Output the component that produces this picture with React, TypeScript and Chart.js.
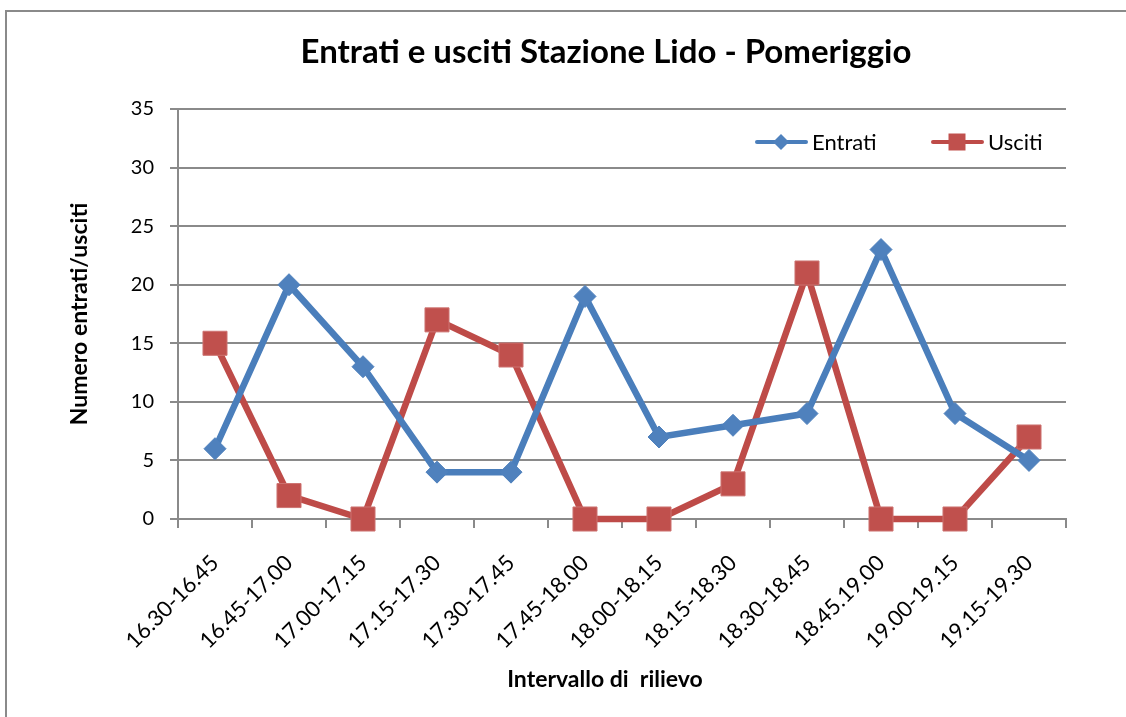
import React, { useEffect, useRef } from "react";
import { Chart, registerables } from "chart.js";

Chart.register(...registerables);

const categories = [
  "16.30-16.45",
  "16.45-17.00",
  "17.00-17.15",
  "17.15-17.30",
  "17.30-17.45",
  "17.45-18.00",
  "18.00-18.15",
  "18.15-18.30",
  "18.30-18.45",
  "18.45.19.00",
  "19.00-19.15",
  "19.15-19.30",
];
const entrati = [6, 20, 13, 4, 4, 19, 7, 8, 9, 23, 9, 5];
const usciti = [15, 2, 0, 17, 14, 0, 0, 3, 21, 0, 0, 7];
const seriesNames = ["Entrati", "Usciti"];
const chartTitle = "Entrati e usciti Stazione Lido - Pomeriggio";
const yTitle = "Numero entrati/usciti";
const xTitle = "Intervallo di  rilievo";

const FONT = "Lato, 'Open Sans', sans-serif";
const BLUE = "#4A7EBB";
const BLUE_M = "#4F81BD";
const RED = "#BE4B48";
const RED_M = "#C0504D";
const GRID = "#8A8A8A";

const W = 1126;
const H = 717;
const AREA = { left: 178, right: 1066, top: 109, bottom: 519 };

const decorPlugin = {
  id: "decor",
  beforeDraw(chart: any) {
    const ctx = chart.ctx;
    ctx.save();
    ctx.fillStyle = "#ffffff";
    ctx.fillRect(0, 0, W, H);
    ctx.strokeStyle = GRID;
    ctx.lineWidth = 2;
    ctx.strokeRect(6, 11, 1300, 900);
    ctx.restore();
  },
  afterDraw(chart: any) {
    const ctx = chart.ctx;
    ctx.save();
    // title
    ctx.fillStyle = "#000";
    ctx.font = `bold 33px ${FONT}`;
    ctx.textAlign = "center";
    ctx.textBaseline = "middle";
    ctx.fillText(chartTitle, 606, 52);
    // x axis title
    ctx.font = `bold 23px ${FONT}`;
    ctx.fillText(xTitle, 605, 680);
    // legend
    const items = [
      { x: 755, label: seriesNames[0], color: BLUE, marker: "diamond" },
      { x: 931, label: seriesNames[1], color: RED, marker: "square" },
    ];
    const ly = 142;
    ctx.font = `22px ${FONT}`;
    ctx.textAlign = "left";
    for (const it of items) {
      ctx.strokeStyle = it.color;
      ctx.lineWidth = 4;
      ctx.lineCap = "round";
      ctx.beginPath();
      ctx.moveTo(it.x + 2, ly);
      ctx.lineTo(it.x + 51, ly);
      ctx.stroke();
      const cx = it.x + 26;
      ctx.fillStyle = it.marker === "diamond" ? BLUE_M : RED_M;
      ctx.beginPath();
      if (it.marker === "diamond") {
        ctx.moveTo(cx - 8, ly);
        ctx.lineTo(cx, ly - 8);
        ctx.lineTo(cx + 8, ly);
        ctx.lineTo(cx, ly + 8);
        ctx.closePath();
      } else {
        ctx.rect(cx - 8.5, ly - 8.5, 17, 17);
      }
      ctx.fill();
      ctx.fillStyle = "#000";
      ctx.fillText(it.label, it.x + 57, ly + 1);
    }
    ctx.restore();
  },
};

export default function App() {
  const ref = useRef<HTMLCanvasElement | null>(null);
  useEffect(() => {
    if (!ref.current) return;
    const chart = new Chart(ref.current, {
      type: "line",
      data: {
        labels: categories,
        datasets: [
          {
            label: seriesNames[0],
            data: entrati,
            borderColor: BLUE,
            backgroundColor: BLUE_M,
            borderWidth: 6.5,
            pointStyle: "rectRot",
            pointRadius: 11,
            pointBorderWidth: 1,
            pointBorderColor: BLUE_M,
            pointBackgroundColor: BLUE_M,
            tension: 0,
            clip: false as any,
          },
          {
            label: seriesNames[1],
            data: usciti,
            borderColor: RED,
            backgroundColor: RED_M,
            borderWidth: 6.5,
            pointStyle: "rect",
            pointRadius: 17,
            pointBorderWidth: 1,
            pointBorderColor: "#CD7371",
            pointBackgroundColor: RED_M,
            tension: 0,
            clip: false as any,
          },
        ],
      },
      options: {
        animation: false,
        responsive: false,
        events: [],
        layout: {
          padding: { left: 0, top: AREA.top, right: W - AREA.right, bottom: 0 },
        },
        plugins: {
          legend: { display: false },
          title: { display: false },
          tooltip: { enabled: false },
        },
        scales: {
          x: {
            type: "category",
            offset: true,
            grid: {
              offset: true,
              drawOnChartArea: false,
              drawTicks: true,
              tickLength: 9,
              color: GRID,
              lineWidth: 2,
            },
            border: { display: true, color: GRID, width: 2 },
            ticks: {
              minRotation: 45,
              maxRotation: 45,
              autoSkip: false,
              padding: 22,
              color: "#000",
              font: { family: FONT, size: 22 },
            },
            title: { display: false },
            afterFit(scale: any) {
              scale.height = H - AREA.bottom;
            },
          },
          y: {
            min: 0,
            max: 35,
            ticks: {
              stepSize: 5,
              padding: 16,
              color: "#000",
              font: { family: FONT, size: 20 },
            },
            grid: {
              color: GRID,
              lineWidth: 2,
              drawTicks: true,
              tickLength: 8,
            },
            border: { display: true, color: GRID, width: 2 },
            title: {
              display: true,
              text: yTitle,
              color: "#000",
              font: { family: FONT, size: 23, weight: "bold" },
              padding: { top: 66, bottom: 0 },
            },
            afterFit(scale: any) {
              scale.width = AREA.left;
            },
          },
        },
      },
      plugins: [decorPlugin],
    });
    return () => chart.destroy();
  }, []);
  return (
    <div style={{ position: "fixed", left: 0, top: 0, width: W, height: H }}>
      <canvas ref={ref} width={W} height={H} style={{ width: W, height: H, display: "block" }} />
    </div>
  );
}
